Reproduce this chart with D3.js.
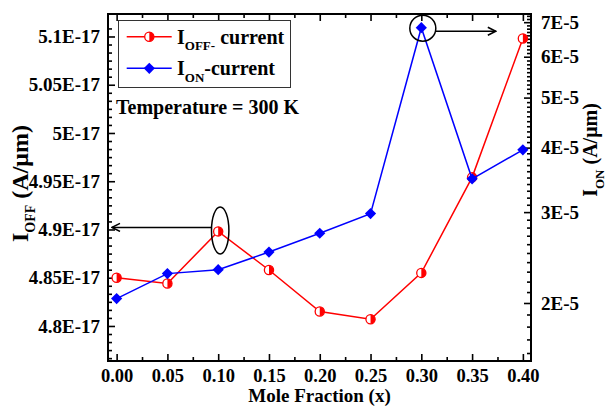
<!DOCTYPE html>
<html>
<head>
<meta charset="utf-8">
<script src="https://cdn.jsdelivr.net/npm/d3@7"></script>
<style>
  html, body { margin: 0; padding: 0; background: #fff; }
  svg { display: block; }
  text { font-family: "Liberation Serif", "Times New Roman", serif; font-weight: bold; fill: #000; }
</style>
</head>
<body>
<svg id="chart" width="606" height="406"></svg>
<script>
// ---- data ----
const moleFraction = [0.00, 0.05, 0.10, 0.15, 0.20, 0.25, 0.30, 0.35, 0.40];
const iOff = [4.850e-17, 4.844e-17, 4.898e-17, 4.858e-17, 4.815e-17, 4.807e-17, 4.855e-17, 4.954e-17, 5.098e-17];
const iOn  = [2.04e-5, 2.28e-5, 2.32e-5, 2.51e-5, 2.73e-5, 2.98e-5, 6.83e-5, 3.48e-5, 3.96e-5];
const xTicks = [0.00, 0.05, 0.10, 0.15, 0.20, 0.25, 0.30, 0.35, 0.40];
const xTickLabels = ["0.00", "0.05", "0.10", "0.15", "0.20", "0.25", "0.30", "0.35", "0.40"];
const leftTicks = [4.80e-17, 4.85e-17, 4.90e-17, 4.95e-17, 5.00e-17, 5.05e-17, 5.10e-17];
const leftTickLabels = ["4.8E-17", "4.85E-17", "4.9E-17", "4.95E-17", "5E-17", "5.05E-17", "5.1E-17"];
const rightTicks = [2e-5, 3e-5, 4e-5, 5e-5, 6e-5, 7e-5];
const rightTickLabels = ["2E-5", "3E-5", "4E-5", "5E-5", "6E-5", "7E-5"];
const seriesNames = ["OFF-", "ON"];

// ---- layout ----
const L = 108, R = 531, T = 14, B = 361;
const svg = d3.select("#chart");

const x = d3.scaleLinear().domain([-0.0085, 0.408]).range([L, R]);
const yL = d3.scaleLinear().domain([4.7637e-17, 5.1233e-17]).range([B, T]);
const yR = d3.scaleLog().domain([1.544e-5, 7.26e-5]).range([B, T]);

// minor tick values
const xMinor = d3.range(0.025, 0.41, 0.05);
const lStep = 0.05e-17 / 6;
const lMinor = d3.range(-4, 38).map(i => 4.80e-17 + i * lStep)
  .filter(v => v > yL.domain()[0] && v < yL.domain()[1])
  .filter(v => !leftTicks.some(t => Math.abs(t - v) < 1e-21));
const rMinor = d3.range(16, 73).map(i => i * 1e-6)
  .filter(v => v > yR.domain()[0] && v < yR.domain()[1])
  .filter(v => !rightTicks.some(t => Math.abs(t - v) < 1e-9));

const tickStyle = size => g => {
  g.select(".domain").remove();
  g.selectAll(".tick line").attr("stroke", "#000").attr("stroke-width", 1.6);
  g.selectAll(".tick text").style("font-size", size + "px").style("font-weight", "bold")
    .style("font-family", '"Liberation Serif", serif').attr("fill", "#000");
};

// bottom axis
svg.append("g").attr("transform", `translate(0,${B})`)
  .call(d3.axisBottom(x).tickValues(xTicks).tickSize(-7).tickPadding(8)
    .tickFormat((d, i) => xTickLabels[i]))
  .call(tickStyle(18.5));
svg.append("g").attr("transform", `translate(0,${B})`)
  .call(d3.axisBottom(x).tickValues(xMinor).tickSize(-4).tickFormat(""))
  .call(tickStyle(18));
// top axis
svg.append("g").attr("transform", `translate(0,${T})`)
  .call(d3.axisTop(x).tickValues(xTicks).tickSize(-7).tickFormat(""))
  .call(tickStyle(18));
svg.append("g").attr("transform", `translate(0,${T})`)
  .call(d3.axisTop(x).tickValues(xMinor).tickSize(-4).tickFormat(""))
  .call(tickStyle(18));
// left axis
svg.append("g").attr("transform", `translate(${L},0)`)
  .call(d3.axisLeft(yL).tickValues(leftTicks).tickSize(-7).tickPadding(8)
    .tickFormat((d, i) => leftTickLabels[i]))
  .call(tickStyle(19));
svg.append("g").attr("transform", `translate(${L},0)`)
  .call(d3.axisLeft(yL).tickValues(lMinor).tickSize(-4).tickFormat(""))
  .call(tickStyle(19));
// right axis
svg.append("g").attr("transform", `translate(${R},0)`)
  .call(d3.axisRight(yR).tickValues(rightTicks).tickSize(-7).tickPadding(10)
    .tickFormat((d, i) => rightTickLabels[i]))
  .call(tickStyle(19));
svg.append("g").attr("transform", `translate(${R},0)`)
  .call(d3.axisRight(yR).tickValues(rMinor).tickSize(-4).tickFormat(""))
  .call(tickStyle(19));

// frame
svg.append("rect").attr("x", L).attr("y", T).attr("width", R - L).attr("height", B - T)
  .attr("fill", "none").attr("stroke", "#000").attr("stroke-width", 2);

// ---- series ----
const red = "#ff0000", blue = "#0000ff";
const offLine = d3.line().x((d, i) => x(moleFraction[i])).y(d => yL(d));
const onLine = d3.line().x((d, i) => x(moleFraction[i])).y(d => yR(d));

function halfCircle(g, cx, cy, r) {
  g.append("circle").attr("cx", cx).attr("cy", cy).attr("r", r)
    .attr("fill", "#fff").attr("stroke", red).attr("stroke-width", 1.3);
  g.append("path")
    .attr("d", `M${cx},${cy - r} A${r},${r} 0 0 1 ${cx},${cy + r} Z`)
    .attr("fill", red);
}
function diamond(g, cx, cy, s) {
  g.append("path")
    .attr("d", `M${cx},${cy - s} L${cx + s},${cy} L${cx},${cy + s} L${cx - s},${cy} Z`)
    .attr("fill", blue);
}

svg.append("path").datum(iOff).attr("d", offLine)
  .attr("fill", "none").attr("stroke", red).attr("stroke-width", 1.5);
const gOff = svg.append("g");
iOff.forEach((v, i) => halfCircle(gOff, x(moleFraction[i]), yL(v), 4.6));

svg.append("path").datum(iOn).attr("d", onLine)
  .attr("fill", "none").attr("stroke", blue).attr("stroke-width", 1.5);
const gOn = svg.append("g");
iOn.forEach((v, i) => diamond(gOn, x(moleFraction[i]), yR(v), 5.6));

// ---- annotations ----
const defs = svg.append("defs");
defs.append("marker").attr("id", "arr").attr("viewBox", "0 0 10 10")
  .attr("refX", 9).attr("refY", 5).attr("markerWidth", 10).attr("markerHeight", 10)
  .attr("markerUnits", "userSpaceOnUse").attr("orient", "auto")
  .append("path").attr("d", "M1,1 L9,5 L1,9").attr("fill", "none")
  .attr("stroke", "#000").attr("stroke-width", 1.6);

const ex = x(moleFraction[2]) + 2, ey = yL(iOff[2]) - 1;
svg.append("ellipse").attr("cx", ex).attr("cy", ey).attr("rx", 8.7).attr("ry", 23.5)
  .attr("fill", "none").attr("stroke", "#000").attr("stroke-width", 1.5);
svg.append("line").attr("x1", ex - 8.7).attr("y1", ey - 3).attr("x2", L + 4).attr("y2", ey - 3)
  .attr("stroke", "#000").attr("stroke-width", 1.5).attr("marker-end", "url(#arr)");

const cx6 = x(moleFraction[6]) + 1.5, cy6 = yR(iOn[6]) + 0.5;
svg.append("circle").attr("cx", cx6).attr("cy", cy6).attr("r", 13)
  .attr("fill", "none").attr("stroke", "#000").attr("stroke-width", 1.5);
svg.append("line").attr("x1", cx6 + 13).attr("y1", cy6 + 3).attr("x2", cx6 + 73).attr("y2", cy6 + 3)
  .attr("stroke", "#000").attr("stroke-width", 1.5).attr("marker-end", "url(#arr)");

// ---- legend ----
svg.append("rect").attr("x", 118.5).attr("y", 20.5).attr("width", 172).attr("height", 67)
  .attr("fill", "#fff").attr("stroke", "#333").attr("stroke-width", 1);
const legRows = [{y: 36.7, color: red, name: seriesNames[0], tail: " current", base: 43.5},
                 {y: 68.3, color: blue, name: seriesNames[1], tail: "-current", base: 75}];
legRows.forEach((r, i) => {
  svg.append("line").attr("x1", 126.7).attr("x2", 171.7).attr("y1", r.y).attr("y2", r.y)
    .attr("stroke", r.color).attr("stroke-width", 1.5);
  if (i === 0) halfCircle(svg, 149.3, r.y, 4.6); else diamond(svg, 149.3, r.y, 5.6);
  const t = svg.append("text").attr("x", 177).attr("y", r.base).style("font-size", "20px");
  t.append("tspan").text("I");
  t.append("tspan").attr("dy", 6.5).style("font-size", "13px").text(r.name);
  t.append("tspan").attr("dy", -6.5).text(r.tail);
});

svg.append("text").attr("x", 116).attr("y", 114).style("font-size", "20px")
  .text("Temperature = 300 K");

// ---- axis titles ----
svg.append("text").attr("x", (L + R) / 2).attr("y", 402).attr("text-anchor", "middle")
  .style("font-size", "19px").text("Mole Fraction (x)");

function yTitle(xPos, yPos, sub, size, subSize, anchor) {
  const t = svg.append("text").attr("transform", `translate(${xPos},${yPos}) rotate(-90)`)
    .attr("text-anchor", anchor).style("font-size", size + "px");
  t.append("tspan").text("I");
  t.append("tspan").attr("dy", 7).style("font-size", subSize + "px").text(sub);
  t.append("tspan").attr("dy", -7).text(" (A/\u03bcm)");
}
yTitle(28, 242, "OFF", 24, 14, "start");
yTitle(597, 150, "ON", 20, 13, "middle");
</script>
</body>
</html>
